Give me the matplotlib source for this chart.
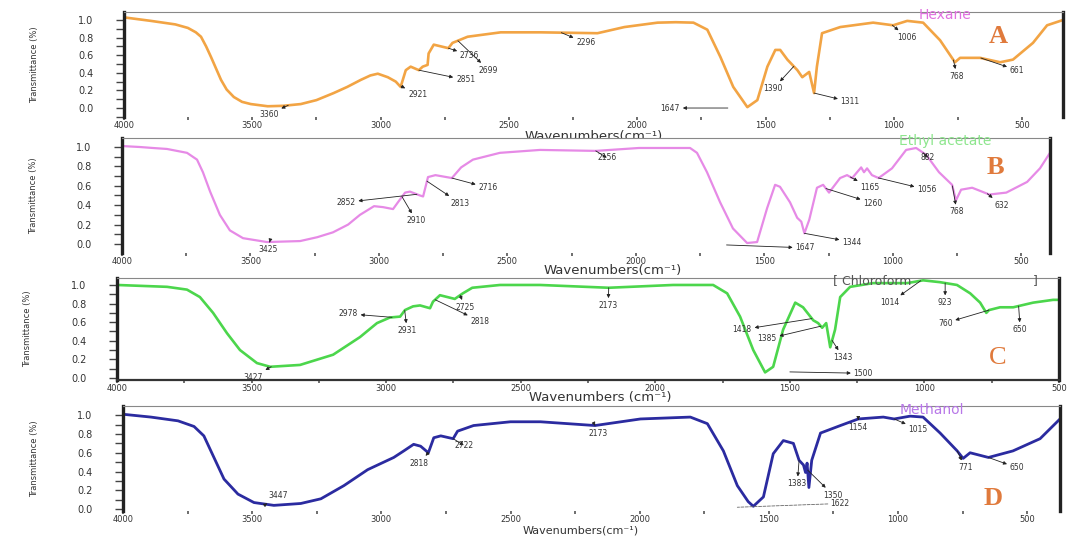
import numpy as np
import matplotlib
matplotlib.use("Agg")
import matplotlib.pyplot as plt
from matplotlib.ticker import MultipleLocator

# ---------------- spectra (wavenumber in cm-1, transmittance) ----------------
hexane_wn = [4000, 3895, 3800, 3751, 3720, 3700, 3680, 3661, 3640, 3622, 3600, 3572, 3540,
             3506, 3440, 3380, 3311, 3250, 3183, 3130, 3077, 3040, 3011, 2972, 2941, 2922,
             2902, 2883, 2851, 2836, 2817, 2813, 2793, 2736, 2720, 2661, 2532, 2377, 2155,
             2050, 1921, 1850, 1781, 1727, 1676, 1626, 1571, 1532, 1493, 1462, 1443, 1415,
             1376, 1357, 1330, 1311, 1300, 1280, 1209, 1081, 1003, 948, 886, 820, 762, 742,
             664, 586, 536, 458, 403, 341]
hexane_t = [1.03, 0.99, 0.95, 0.91, 0.86, 0.81, 0.70, 0.58, 0.44, 0.32, 0.21, 0.125, 0.07,
            0.045, 0.02, 0.025, 0.045, 0.09, 0.17, 0.24, 0.32, 0.37, 0.39, 0.35, 0.30, 0.24,
            0.43, 0.47, 0.43, 0.47, 0.49, 0.62, 0.72, 0.68, 0.74, 0.81, 0.86, 0.86, 0.85,
            0.92, 0.97, 0.975, 0.97, 0.89, 0.58, 0.24, 0.01, 0.09, 0.47, 0.66, 0.66, 0.55,
            0.43, 0.35, 0.41, 0.17, 0.47, 0.85, 0.92, 0.97, 0.94, 0.99, 0.97, 0.77, 0.52, 0.57,
            0.57, 0.52, 0.55, 0.74, 0.94, 1.0]

ethyl_wn = [4000, 3930, 3880, 3825, 3747, 3708, 3685, 3657, 3619, 3580, 3529, 3436, 3307,
            3240, 3179, 3120, 3074, 3019, 2984, 2945, 2926, 2898, 2879, 2840, 2828, 2809,
            2780, 2716, 2680, 2634, 2529, 2373, 2156, 1988, 1789, 1762, 1723, 1672, 1622,
            1567, 1528, 1489, 1458, 1439, 1400, 1372, 1356, 1344, 1325, 1295, 1271, 1248,
            1205, 1178, 1158, 1123, 1112, 1100, 1081, 1055, 1003, 948, 909, 870, 820, 769,
            754, 734, 691, 624, 558, 477, 427, 388]
ethyl_t = [1.01, 1.0, 0.99, 0.98, 0.94, 0.87, 0.74, 0.54, 0.30, 0.14, 0.06, 0.02, 0.03,
           0.07, 0.12, 0.20, 0.30, 0.39, 0.38, 0.36, 0.43, 0.53, 0.54, 0.50, 0.49, 0.69,
           0.71, 0.68, 0.79, 0.87, 0.94, 0.97, 0.96, 0.99, 0.99, 0.94, 0.74, 0.43, 0.16,
           0.01, 0.02, 0.37, 0.61, 0.59, 0.43, 0.27, 0.23, 0.11, 0.25, 0.58, 0.61, 0.53,
           0.68, 0.71, 0.68, 0.79, 0.74, 0.78, 0.71, 0.68, 0.78, 0.97, 0.99, 0.92, 0.74, 0.61,
           0.45, 0.56, 0.58, 0.51, 0.53, 0.64, 0.78, 0.94]

chloro_wn = [4000, 3814, 3740, 3692, 3643, 3591, 3543, 3480, 3431, 3320, 3197, 3097, 3034,
             2986, 2948, 2930, 2900, 2874, 2837, 2826, 2800, 2745, 2715, 2680, 2577, 2428,
             2173, 1934, 1785, 1733, 1685, 1636, 1592, 1562, 1525, 1480, 1451, 1413, 1395,
             1380, 1365, 1350, 1332, 1313, 1276, 1191, 1064, 1005, 942, 879, 830, 793, 770,
             760, 719, 670, 596, 522, 500]
chloro_t = [1.0, 0.98, 0.95, 0.87, 0.70, 0.48, 0.30, 0.16, 0.12, 0.14, 0.25, 0.44, 0.59,
            0.65, 0.66, 0.73, 0.77, 0.78, 0.75, 0.82, 0.89, 0.85, 0.91, 0.97, 1.0, 1.0,
            0.97, 1.0, 1.0, 0.91, 0.66, 0.30, 0.06, 0.12, 0.52, 0.81, 0.76, 0.62, 0.59,
            0.54, 0.59, 0.33, 0.52, 0.87, 0.98, 1.02, 1.02, 1.05, 1.03, 1.0, 0.91, 0.81, 0.70,
            0.73, 0.76, 0.76, 0.81, 0.84, 0.84]

methanol_wn = [4000, 3892, 3787, 3725, 3687, 3648, 3609, 3555, 3493, 3416, 3312, 3234, 3145,
               3053, 2952, 2913, 2875, 2848, 2818, 2797, 2770, 2722, 2705, 2643, 2500, 2384,
               2173, 1997, 1804, 1738, 1676, 1622, 1580, 1560, 1521, 1483, 1444, 1405, 1383,
               1366, 1358, 1352, 1345, 1334, 1300, 1223, 1154, 1057, 1015, 953, 903, 837, 771,
               748, 721, 650, 555, 450, 373]
methanol_t = [1.01, 0.98, 0.94, 0.88, 0.78, 0.55, 0.32, 0.16, 0.07, 0.04, 0.06, 0.11, 0.25,
              0.42, 0.55, 0.62, 0.69, 0.67, 0.60, 0.76, 0.78, 0.75, 0.83, 0.89, 0.93, 0.93,
              0.89, 0.96, 0.98, 0.91, 0.62, 0.25, 0.08, 0.03, 0.13, 0.59, 0.73, 0.70, 0.52,
              0.47, 0.39, 0.49, 0.23, 0.52, 0.81, 0.89, 0.96, 0.98, 0.96, 0.99, 0.98, 0.81, 0.62,
              0.54, 0.60, 0.55, 0.62, 0.75, 0.96]

# ---------------- labelled bands ----------------
hexane_peaks = [3360, 2921, 2851, 2699, 2736, 2296, 1647, 1390, 1311, 1006, 768, 661]
ethyl_peaks = [3425, 2852, 2910, 2813, 2716, 2156, 1647, 1344, 1260, 1165, 1056, 882, 768, 632]
chloro_peaks = [3427, 2978, 2931, 2818, 2725, 2173, 1418, 1385, 1343, 1500, 1014, 923, 760, 650]
methanol_peaks = [3447, 2818, 2722, 2173, 1383, 1350, 1622, 1154, 1015, 771, 650]

x_ticks = [4000, 3500, 3000, 2500, 2000, 1500, 1000, 500]
y_ticks = [0.0, 0.2, 0.4, 0.6, 0.8, 1.0]

# ---------------- layout: label placement (text x, text y, fixed tip y or None) ----
hexane_spots = [(3436, -0.07, None), (2856, 0.15, None), (2669, 0.32, None),
                (2579, 0.43, None), (2653, 0.60, None), (2200, 0.74, None),
                (1871, 0.0, 0.0), (1470, 0.22, None), (1170, 0.07, 0.17),
                (948, 0.80, None), (754, 0.36, None), (520, 0.43, None)]
ethyl_spots = [(3432, -0.06, None), (3128, 0.43, None), (2855, 0.24, None),
               (2684, 0.42, None), (2575, 0.58, None), (2113, 0.89, None),
               (1341, -0.04, -0.01), (1159, 0.02, None), (1077, 0.42, None),
               (1088, 0.58, None), (867, 0.56, None), (863, 0.89, None),
               (750, 0.33, None), (575, 0.40, None)]
chloro_spots = [(3495, 0.01, None), (3141, 0.69, None), (2922, 0.51, None),
                (2651, 0.61, None), (2707, 0.76, None), (2175, 0.78, None),
                (1677, 0.52, None), (1585, 0.42, None), (1302, 0.22, None),
                (1227, 0.05, 0.065), (1127, 0.81, None), (923, 0.81, None),
                (923, 0.59, None), (644, 0.52, None)]
methanol_spots = [(3401, 0.14, None), (2855, 0.49, None), (2681, 0.68, None),
                  (2159, 0.81, None), (1390, 0.27, None), (1251, 0.15, None),
                  (1224, 0.06, 0.02), (1154, 0.87, None), (922, 0.85, None),
                  (740, 0.44, None), (539, 0.44, None)]

W, H = 1078, 536
fig = plt.figure(figsize=(W / 100, H / 100), dpi=100)
fig.patch.set_facecolor("white")


def px_axes(left, right, top, bottom):
    return fig.add_axes([left / W, 1 - bottom / H, (right - left) / W, (bottom - top) / H])


LETTER_COLOR = "#E07A3C"
TEXT_COLOR = "#333333"


def style_axes(ax, xlim, ylim, bottom_line=False):
    ax.set_xlim(*xlim)
    ax.set_ylim(*ylim)
    ax.set_xticks(x_ticks)
    ax.set_xticklabels([str(v) for v in x_ticks])
    ax.xaxis.set_minor_locator(MultipleLocator(250))
    ax.set_yticks(y_ticks)
    ax.set_yticklabels([f"{v:.1f}" for v in y_ticks])
    ax.yaxis.set_minor_locator(MultipleLocator(0.1))
    ax.tick_params(axis="x", which="both", direction="out", length=2.5, width=1.2,
                   color="#555555", pad=0.5, labelsize=6, labelcolor=TEXT_COLOR)
    ax.tick_params(axis="y", which="both", direction="out", length=6, width=1.0,
                   color="#444444", pad=16, labelsize=7, labelcolor=TEXT_COLOR)
    ax.spines["left"].set_linewidth(2.4)
    ax.spines["left"].set_color("#222222")
    ax.spines["right"].set_linewidth(2.4)
    ax.spines["right"].set_color("#222222")
    ax.spines["top"].set_linewidth(0.8)
    ax.spines["top"].set_color("#888888")
    if bottom_line:
        ax.spines["bottom"].set_linewidth(1.6)
        ax.spines["bottom"].set_color("#333333")
    else:
        ax.spines["bottom"].set_visible(False)
    ax.set_ylabel("Transmittance (%)", fontsize=6, color=TEXT_COLOR)
    ax.yaxis.set_label_coords(-0.09, 0.5)


def mark_peaks(ax, wn, t, peaks, spots, dashed=()):
    xs = np.asarray(wn, dtype=float)[::-1]
    ys = np.asarray(t, dtype=float)[::-1]
    for value, (tx, ty, tip) in zip(peaks, spots):
        y = float(np.interp(value, xs, ys)) if tip is None else tip
        props = dict(arrowstyle="<|-", color="#222222", lw=0.6, mutation_scale=5,
                     shrinkA=0, shrinkB=0)
        if value in dashed:
            props = dict(arrowstyle="-", color="#666666", lw=0.6, ls="--",
                         shrinkA=0, shrinkB=0)
        ax.annotate(str(value), xy=(value, y), xytext=(tx, ty), ha="center", va="center",
                    fontsize=5.5, color=TEXT_COLOR, arrowprops=props)


def x_title(ax, x, y, text, size=9.5):
    ax.text(x, y, text, transform=ax.transAxes, ha="center", va="center",
            fontsize=size, color=TEXT_COLOR, clip_on=False)


# ---------------- A: hexane ----------------
axA = px_axes(124, 1063, 12, 117)
axA.plot(hexane_wn, hexane_t, color="#F2A444", lw=1.9, solid_joinstyle="round")
style_axes(axA, (4000, 341), (-0.102, 1.091))
mark_peaks(axA, hexane_wn, hexane_t, hexane_peaks, hexane_spots)
axA.text(800, 1.06, "Hexane", color="#E070E0", fontsize=10, ha="center", va="center")
axA.text(594, 0.81, "A", color=LETTER_COLOR, fontsize=19, fontweight="bold",
         family="Liberation Serif", ha="center", va="center")
x_title(axA, 0.50, -0.181, "Wavenumbers(cm⁻¹)")

# ---------------- B: ethyl acetate ----------------
axB = px_axes(122, 1050, 138, 253)
axB.plot(ethyl_wn, ethyl_t, color="#E68AE6", lw=1.6, solid_joinstyle="round")
style_axes(axB, (4000, 388), (-0.093, 1.093))
mark_peaks(axB, ethyl_wn, ethyl_t, ethyl_peaks, ethyl_spots)
axB.text(796, 1.06, "Ethyl acetate", color="#8EE68E", fontsize=10, ha="center", va="center")
axB.text(602, 0.79, "B", color=LETTER_COLOR, fontsize=19, fontweight="bold",
         family="Liberation Serif", ha="center", va="center")
x_title(axB, 0.529, -0.155, "Wavenumbers(cm⁻¹)")

# ---------------- C: chloroform ----------------
axC = px_axes(117, 1059, 278, 380)
axC.plot(chloro_wn, chloro_t, color="#4CD64C", lw=1.9, solid_joinstyle="round")
style_axes(axC, (4000, 500), (-0.022, 1.075), bottom_line=True)
mark_peaks(axC, chloro_wn, chloro_t, chloro_peaks, chloro_spots)
axC.text(1339, 1.05, "[ Chloroform", color="#555555", fontsize=9, ha="left", va="center")
axC.text(589, 1.05, "]", color="#555555", fontsize=9, ha="center", va="center")
axC.text(726, 0.215, "C", color=LETTER_COLOR, fontsize=19,
         family="Liberation Serif", ha="center", va="center")
x_title(axC, 0.513, -0.175, "Wavenumbers (cm⁻¹)")

# ---------------- D: methanol ----------------
axD = px_axes(123, 1060, 406, 511)
axD.plot(methanol_wn, methanol_t, color="#2B2BA0", lw=2.0, solid_joinstyle="round")
style_axes(axD, (4000, 373), (-0.02, 1.098))
mark_peaks(axD, methanol_wn, methanol_t, methanol_peaks, methanol_spots, dashed=(1622,))
axD.text(868, 1.06, "Methanol", color="#B878E8", fontsize=10, ha="center", va="center")
axD.text(632, 0.11, "D", color=LETTER_COLOR, fontsize=19, fontweight="bold",
         family="Liberation Serif", ha="center", va="center")
x_title(axD, 0.488, -0.19, "Wavenumbers(cm⁻¹)", size=8)

fig.savefig("out.png", dpi=100, facecolor="white")
